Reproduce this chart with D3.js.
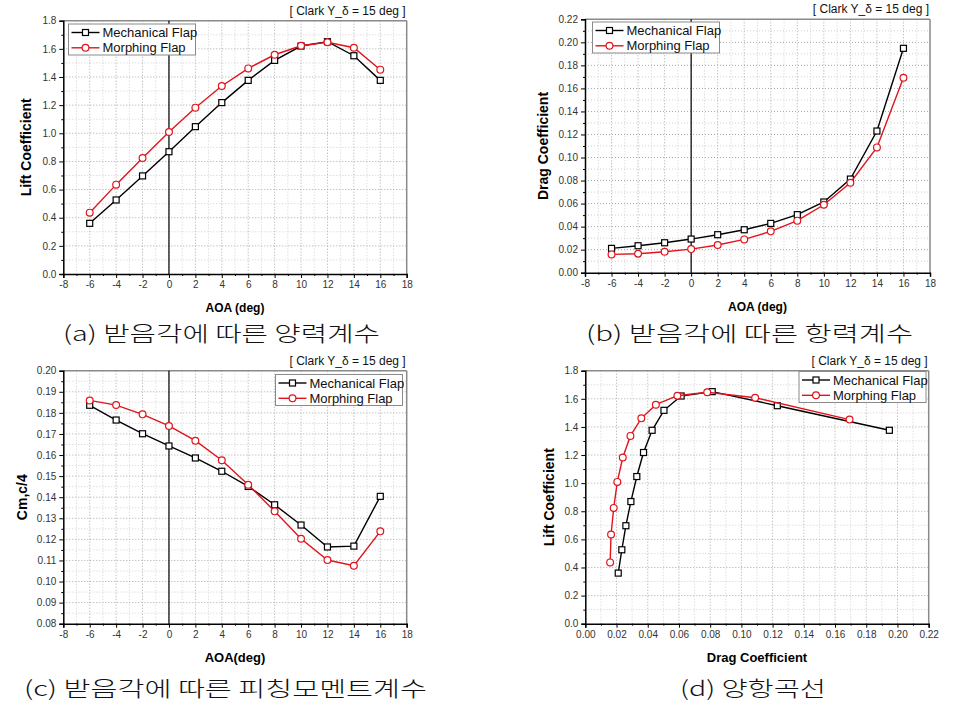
<!DOCTYPE html>
<html><head><meta charset="utf-8">
<script src="https://cdn.jsdelivr.net/npm/d3@7"></script>
<style>
html,body{margin:0;padding:0;background:#fff;}
svg{display:block;}
</style></head>
<body>
<svg id="chart" width="966" height="709"></svg>
<script>
// ---- data ----
const aoa = [-6, -4, -2, 0, 2, 4, 6, 8, 10, 12, 14, 16];
const clMech  = [0.36, 0.526, 0.697, 0.869, 1.047, 1.218, 1.376, 1.518, 1.620, 1.651, 1.551, 1.376];
const clMorph = [0.436, 0.635, 0.824, 1.009, 1.182, 1.336, 1.461, 1.558, 1.622, 1.647, 1.608, 1.452];
const cdMech  = [0.0211, 0.0234, 0.0260, 0.0292, 0.0330, 0.0373, 0.0428, 0.0504, 0.0614, 0.0813, 0.1230, 0.1948];
const cdMorph = [0.0159, 0.0165, 0.0182, 0.0205, 0.0240, 0.0289, 0.0359, 0.0452, 0.0590, 0.0781, 0.1088, 0.1693];
const cmMech  = [0.1836, 0.1766, 0.1701, 0.1643, 0.1586, 0.1523, 0.1451, 0.1364, 0.1268, 0.1164, 0.1168, 0.1404];
const cmMorph = [0.1859, 0.1837, 0.1793, 0.1738, 0.1668, 0.1575, 0.1459, 0.1333, 0.1203, 0.1102, 0.1075, 0.1238];
const seriesNames = ["Mechanical Flap", "Morphing Flap"];
const titleText = "[ Clark Y_δ = 15 deg ]";
const captions = ["(a) 받음각에 따른 양력계수", "(b) 받음각에 따른 항력계수", "(c) 받음각에 따른 피칭모멘트계수", "(d) 양항곡선"];
const aoaTicks = [-8, -6, -4, -2, 0, 2, 4, 6, 8, 10, 12, 14, 16, 18];
const clTicks = [0.0, 0.2, 0.4, 0.6, 0.8, 1.0, 1.2, 1.4, 1.6, 1.8];
const cdTicks = [0.00, 0.02, 0.04, 0.06, 0.08, 0.10, 0.12, 0.14, 0.16, 0.18, 0.20, 0.22];
const cmTicks = [0.08, 0.09, 0.10, 0.11, 0.12, 0.13, 0.14, 0.15, 0.16, 0.17, 0.18, 0.19, 0.20];

const RED = "#e0141c", BLACK = "#000";
const FONT = "'Liberation Sans', Arial, sans-serif";
const svg = d3.select("#chart");

function minorOf(ticks) {
  const out = [];
  for (let i = 0; i < ticks.length - 1; i++) out.push(+((ticks[i] + ticks[i+1]) / 2).toFixed(6));
  return out;
}

function panel(cfg) {
  const g = svg.append("g");
  const x = d3.scaleLinear().domain(cfg.xDomain).range([cfg.left, cfg.right]);
  const y = d3.scaleLinear().domain(cfg.yDomain).range([cfg.bottom, cfg.top]);
  const xMin = minorOf(cfg.xTicks), yMin = minorOf(cfg.yTicks);

  // grid
  const grid = g.append("g");
  grid.selectAll(".gxm").data(xMin).join("line")
    .attr("x1", d => x(d)).attr("x2", d => x(d)).attr("y1", cfg.top).attr("y2", cfg.bottom)
    .attr("stroke", "#d0d0d0").attr("stroke-width", 1).attr("stroke-dasharray", "1,2");
  grid.selectAll(".gym").data(yMin).join("line")
    .attr("y1", d => y(d)).attr("y2", d => y(d)).attr("x1", cfg.left).attr("x2", cfg.right)
    .attr("stroke", "#d0d0d0").attr("stroke-width", 1).attr("stroke-dasharray", "1,2");
  grid.selectAll(".gx").data(cfg.xTicks.slice(1, -1)).join("line")
    .attr("x1", d => x(d)).attr("x2", d => x(d)).attr("y1", cfg.top).attr("y2", cfg.bottom)
    .attr("stroke", "#a8a8a8").attr("stroke-width", 1).attr("stroke-dasharray", "1,2");
  grid.selectAll(".gy").data(cfg.yTicks.slice(1, -1)).join("line")
    .attr("y1", d => y(d)).attr("y2", d => y(d)).attr("x1", cfg.left).attr("x2", cfg.right)
    .attr("stroke", "#a8a8a8").attr("stroke-width", 1).attr("stroke-dasharray", "1,2");

  // frame top/right
  g.append("line").attr("x1", cfg.left).attr("x2", cfg.right).attr("y1", cfg.top).attr("y2", cfg.top)
    .attr("stroke", "#8a8a8a").attr("stroke-width", 1.5);
  g.append("line").attr("x1", cfg.right).attr("x2", cfg.right).attr("y1", cfg.top).attr("y2", cfg.bottom)
    .attr("stroke", "#8a8a8a").attr("stroke-width", 1.5);

  // zero line
  if (cfg.zeroLine) {
    g.append("line").attr("x1", x(0)).attr("x2", x(0)).attr("y1", cfg.top).attr("y2", cfg.bottom)
      .attr("stroke", "#000").attr("stroke-width", 1.2);
  }

  // axes
  const xAxis = g.append("g").attr("transform", `translate(0,${cfg.bottom})`)
    .call(d3.axisBottom(x).tickValues(cfg.xTicks).tickSize(4).tickPadding(3).tickFormat(cfg.xFmt));
  g.append("g").attr("transform", `translate(0,${cfg.bottom})`)
    .call(d3.axisBottom(x).tickValues(xMin).tickSize(2).tickFormat(""))
    .call(a => a.select(".domain").remove());
  const yAxis = g.append("g").attr("transform", `translate(${cfg.left},0)`)
    .call(d3.axisLeft(y).tickValues(cfg.yTicks).tickSize(4).tickPadding(3).tickFormat(cfg.yFmt));
  g.append("g").attr("transform", `translate(${cfg.left},0)`)
    .call(d3.axisLeft(y).tickValues(yMin).tickSize(2).tickFormat(""))
    .call(a => a.select(".domain").remove());
  [xAxis, yAxis].forEach(a => {
    a.select(".domain").attr("stroke", "#000").attr("stroke-width", 1.5);
    a.selectAll(".tick line").attr("stroke", "#000").attr("stroke-width", 1);
    a.selectAll(".tick text").attr("font-family", FONT).attr("font-size", 10).attr("fill", "#333");
  });
  g.selectAll(".tick line").attr("stroke", "#000");

  // labels
  g.append("text").attr("x", (cfg.left + cfg.right) / 2).attr("y", cfg.bottom + 34)
    .attr("text-anchor", "middle").attr("dominant-baseline", "central")
    .attr("font-family", FONT).attr("font-weight", "bold").attr("font-size", cfg.xLabelSize)
    .text(cfg.xLabel);
  g.append("text").attr("transform", `translate(${cfg.yLabelX},${(cfg.top + cfg.bottom) / 2}) rotate(-90)`)
    .attr("text-anchor", "middle").attr("dominant-baseline", "central")
    .attr("font-family", FONT).attr("font-weight", "bold").attr("font-size", 14)
    .text(cfg.yLabel);
  g.append("text").attr("x", cfg.right - 1).attr("y", cfg.top - 10)
    .attr("text-anchor", "end").attr("dominant-baseline", "central")
    .attr("font-family", FONT).attr("font-size", 12).attr("fill", "#111")
    .text(titleText);

  // series
  const line = d3.line().x(d => x(d[0])).y(d => y(d[1]));
  cfg.series.forEach((s, i) => {
    const pts = s.xs.map((v, k) => [v, s.ys[k]]);
    const color = i === 0 ? BLACK : RED;
    g.append("path").datum(pts).attr("d", line).attr("fill", "none")
      .attr("stroke", color).attr("stroke-width", 1.4);
    if (i === 0) {
      g.selectAll(null).data(pts).join("rect")
        .attr("x", d => x(d[0]) - 3).attr("y", d => y(d[1]) - 3).attr("width", 6).attr("height", 6)
        .attr("fill", "#fff").attr("stroke", color).attr("stroke-width", 1.2);
    } else {
      g.selectAll(null).data(pts).join("circle")
        .attr("cx", d => x(d[0])).attr("cy", d => y(d[1])).attr("r", 3.4)
        .attr("fill", "#fff").attr("stroke", color).attr("stroke-width", 1.2);
    }
  });

  // legend
  const L = cfg.legend;
  const lg = g.append("g");
  lg.append("rect").attr("x", L.x).attr("y", L.y).attr("width", 127).attr("height", 31)
    .attr("fill", "#fff").attr("stroke", "#8a8a8a").attr("stroke-width", 1);
  seriesNames.forEach((name, i) => {
    const ry = L.y + 8.5 + i * 15.3;
    const color = i === 0 ? BLACK : RED;
    lg.append("line").attr("x1", L.x + 3).attr("x2", L.x + 31).attr("y1", ry).attr("y2", ry)
      .attr("stroke", color).attr("stroke-width", 1.4);
    if (i === 0) {
      lg.append("rect").attr("x", L.x + 17 - 3).attr("y", ry - 3).attr("width", 6).attr("height", 6)
        .attr("fill", "#fff").attr("stroke", color).attr("stroke-width", 1.2);
    } else {
      lg.append("circle").attr("cx", L.x + 17).attr("cy", ry).attr("r", 3.4)
        .attr("fill", "#fff").attr("stroke", color).attr("stroke-width", 1.2);
    }
    lg.append("text").attr("x", L.x + 34).attr("y", ry).attr("dominant-baseline", "central")
      .attr("font-family", FONT).attr("font-size", 13).attr("fill", "#111").text(name);
  });

  // caption
  svg.append("text").attr("x", cfg.cap.x).attr("y", cfg.cap.y)
    .attr("font-family", "'Noto Sans CJK KR', sans-serif").attr("font-weight", 300)
    .attr("font-size", 21).attr("fill", "#111")
    .attr("textLength", cfg.cap.w).attr("lengthAdjust", "spacingAndGlyphs")
    .text(cfg.cap.text);
}

const intFmt = d => String(d);
panel({
  left: 63.3, right: 406.7, top: 20.7, bottom: 274,
  xDomain: [-8, 18], yDomain: [0, 1.8], xTicks: aoaTicks, yTicks: clTicks,
  xFmt: intFmt, yFmt: d3.format(".1f"), zeroLine: true,
  xLabel: "AOA (deg)", xLabelSize: 12, yLabel: "Lift Coefficient", yLabelX: 26,
  series: [{xs: aoa, ys: clMech}, {xs: aoa, ys: clMorph}],
  legend: {x: 68.5, y: 24},
  cap: {x: 63, y: 341, w: 317, text: captions[0]}
});
panel({
  left: 585, right: 930, top: 19.3, bottom: 272.7,
  xDomain: [-8, 18], yDomain: [0, 0.22], xTicks: aoaTicks, yTicks: cdTicks,
  xFmt: intFmt, yFmt: d3.format(".2f"), zeroLine: true,
  xLabel: "AOA (deg)", xLabelSize: 12, yLabel: "Drag Coefficient", yLabelX: 543,
  series: [{xs: aoa, ys: cdMech}, {xs: aoa, ys: cdMorph}],
  legend: {x: 592.5, y: 22},
  cap: {x: 586, y: 341, w: 327, text: captions[1]}
});
panel({
  left: 63.3, right: 406.7, top: 370.7, bottom: 623.7,
  xDomain: [-8, 18], yDomain: [0.08, 0.20], xTicks: aoaTicks, yTicks: cmTicks,
  xFmt: intFmt, yFmt: d3.format(".2f"), zeroLine: true,
  xLabel: "AOA(deg)", xLabelSize: 13, yLabel: "Cm,c/4", yLabelX: 22,
  series: [{xs: aoa, ys: cmMech}, {xs: aoa, ys: cmMorph}],
  legend: {x: 275.5, y: 374.5},
  cap: {x: 24, y: 696, w: 403, text: captions[2]}
});
panel({
  left: 585.3, right: 928.7, top: 370.7, bottom: 623.7,
  xDomain: [0, 0.22], yDomain: [0, 1.8], xTicks: cdTicks, yTicks: clTicks,
  xFmt: d3.format(".2f"), yFmt: d3.format(".1f"), zeroLine: false,
  xLabel: "Drag Coefficient", xLabelSize: 13, yLabel: "Lift Coefficient", yLabelX: 549,
  series: [{xs: cdMech, ys: clMech}, {xs: cdMorph, ys: clMorph}],
  legend: {x: 799, y: 371.5},
  cap: {x: 680, y: 696, w: 146, text: captions[3]}
});
</script>
</body></html>
